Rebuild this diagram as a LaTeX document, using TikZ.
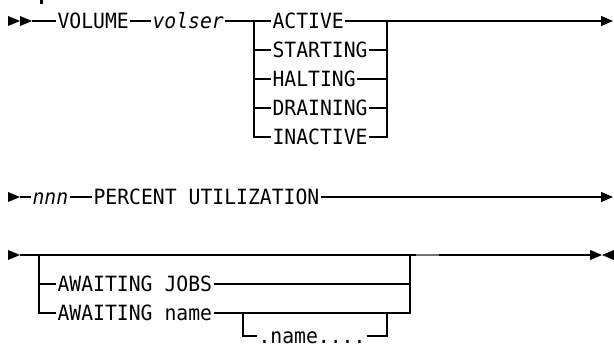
\documentclass[tikz,border=0pt]{standalone}
\usepackage{fontspec}
\newfontfamily\synfont[FakeStretch=0.94]{DejaVu Sans Mono}
\usetikzlibrary{arrows.meta}

\begin{document}
\begin{tikzpicture}[x=1pt, y=-1pt, line width=1.1pt,
    kw/.style={anchor=west, inner xsep=1pt, inner ysep=0pt,
        text height=15.3pt, text depth=0pt,
        font=\synfont\fontsize{21pt}{22pt}\selectfont},
    var/.style={kw, font=\synfont\itshape\fontsize{21pt}{22pt}\selectfont},
    railend/.style={-{Triangle[length=12pt,width=10pt]}}]

% ── filled rail marker: \tri{x}{y}{dir} (dir=1 right, -1 left) ──
\newcommand{\tri}[3]{%
    \fill (#1,{#2-5}) -- ({#1+12*#3},#2) -- (#1,{#2+5}) -- cycle;
}

\useasboundingbox (0,0) rectangle (614,348);

% cut-off heading stroke
\fill (40,0) rectangle (42.5,4);

% ════════════════════════════════════════════════
%  ROW 1 — VOLUME volser status
% ════════════════════════════════════════════════

\tri{8}{21}{1}
\tri{20}{21}{1}
\coordinate (s1) at (32,21);
\node[kw] (volume) at (56,21) {VOLUME};
\node[var] (volser) at (151,21) {volser};

% status choices
\foreach \t/\n/\y in {ACTIVE/act/21, STARTING/start/50, HALTING/halt/79,
    DRAINING/drain/108, INACTIVE/inact/137}{
    \node[kw] (\n) at (271,\y) {\t};
}
\coordinate (l1) at (254,21);
\coordinate (r1) at (387,21);
\coordinate (e1) at (613,21);

\draw (s1) -- (volume);
\draw (volume) -- (volser);
\draw (volser) -- (act);
\draw (l1) |- (inact);
\foreach \n in {start,halt,drain}{
    \draw (\n.west -| l1) -- (\n);
    \draw (\n) -- (\n.east -| r1);
}
\draw (inact) -| (r1);
\draw[railend] (act) -- (e1);

% ════════════════════════════════════════════════
%  ROW 2 — nnn PERCENT UTILIZATION
% ════════════════════════════════════════════════

\tri{8}{197}{1}
\coordinate (s2) at (20,197);
\node[var] (nnn) at (31,197) {nnn};
\node[kw] (pct) at (92,197) {PERCENT UTILIZATION};
\coordinate (e2) at (613,197);

\draw (s2) -- (nnn);
\draw (nnn) -- (pct);
\draw[railend] (pct) -- (e2);

% ════════════════════════════════════════════════
%  ROW 3 — optional AWAITING clause
% ════════════════════════════════════════════════

\tri{8}{255}{1}
\coordinate (s3) at (20,255);
\coordinate (l3) at (39,255);
\coordinate (r3) at (410,255);
\coordinate (e3) at (602,255);
\node[kw] (jobs) at (56,284) {AWAITING JOBS};
\node[kw] (aname) at (56,313) {AWAITING name};
\node[kw] (name) at (257,336) {.name....};
\coordinate (l4) at (243,313);
\coordinate (r4) at (387,313);

\draw[railend] (s3) -- (e3);
\tri{614}{255}{-1}
\draw[line width=1.8pt, black!55] (416,255) -- (439,255);
\draw (l3) |- (aname);
\draw (jobs.west -| l3) -- (jobs);
\draw (jobs) -- (jobs.east -| r3);
\draw (aname) -| (r3);
\draw (l4) |- (name);
\draw (name) -| (r4);

\end{tikzpicture}
\end{document}
